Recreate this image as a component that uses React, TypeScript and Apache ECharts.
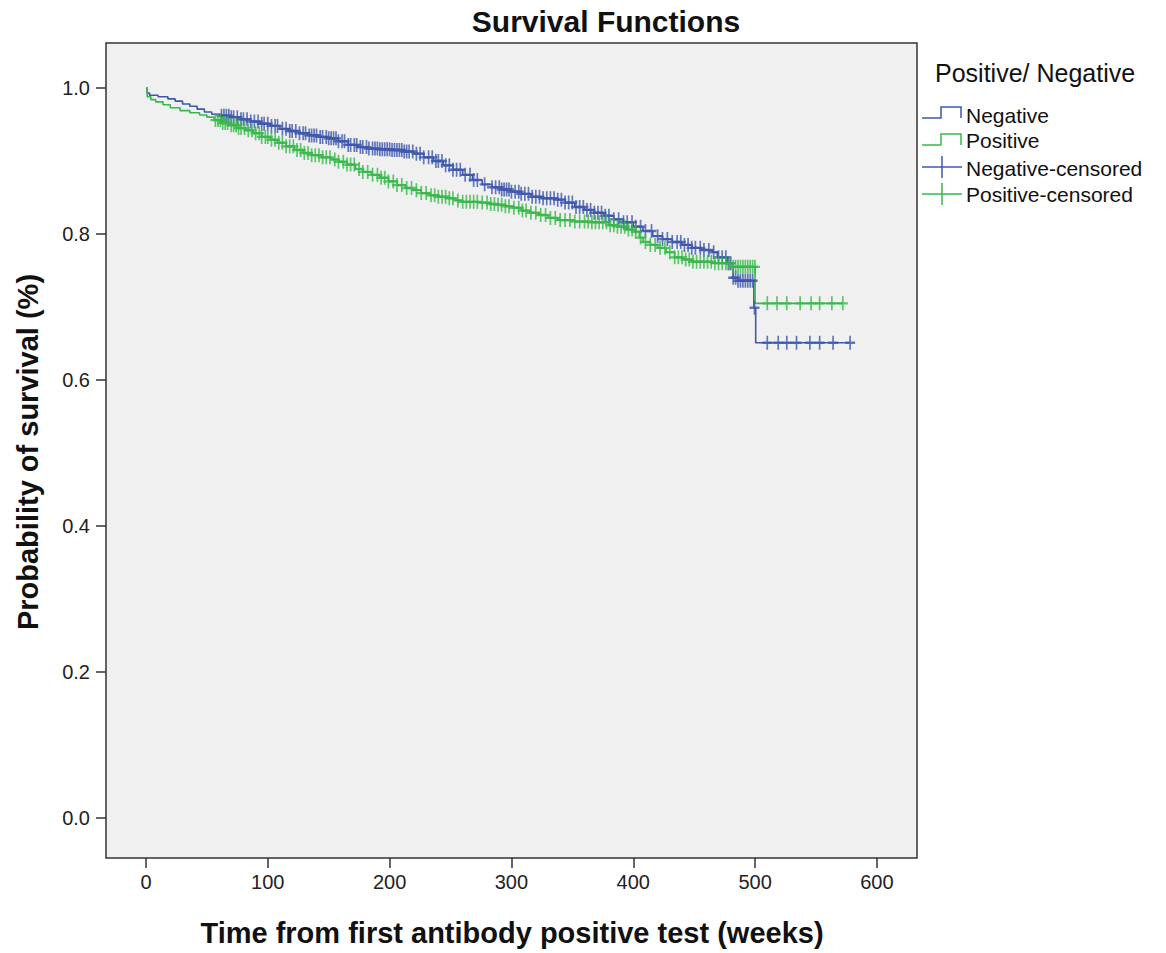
import React, { useEffect, useRef } from "react";
import * as echarts from "echarts";

// Tick values
const xTicks = [0, 100, 200, 300, 400, 500, 600];
const yTicks = [0, 0.2, 0.4, 0.6, 0.8, 1.0];

// Negative group: Kaplan-Meier step points (time in weeks, survival)
const negTimes = [0, 1, 3, 10, 18, 24, 30, 36, 42, 48, 54, 62, 70, 78, 86, 94, 102, 110, 118, 126, 134, 142, 150, 158, 166, 174, 182, 192, 202, 212, 220, 228, 236, 244, 252, 260, 268, 276, 284, 292, 300, 308, 316, 326, 336, 344, 352, 360, 368, 376, 384, 392, 400, 408, 416, 424, 432, 440, 448, 456, 465, 469, 477, 482, 486, 499, 500.5, 578];
const negSurv = [1.0, 0.993, 0.99, 0.988, 0.985, 0.982, 0.978, 0.975, 0.971, 0.967, 0.964, 0.962, 0.96, 0.957, 0.954, 0.951, 0.948, 0.944, 0.941, 0.938, 0.935, 0.933, 0.931, 0.927, 0.922, 0.919, 0.917, 0.916, 0.915, 0.913, 0.91, 0.905, 0.9, 0.894, 0.888, 0.881, 0.874, 0.868, 0.864, 0.861, 0.858, 0.855, 0.851, 0.849, 0.847, 0.843, 0.837, 0.833, 0.829, 0.825, 0.82, 0.816, 0.81, 0.804, 0.797, 0.793, 0.789, 0.785, 0.781, 0.778, 0.775, 0.768, 0.76, 0.74, 0.736, 0.699, 0.651, 0.651];
const negCensored = [62, 64, 66, 68, 70, 72, 75, 78, 80, 83, 86, 89, 92, 95, 97, 100, 103, 106, 108, 112, 115, 118, 120, 123, 126, 129, 131, 134, 136, 138, 140, 143, 145, 148, 150, 152, 154, 156, 158, 161, 163, 166, 168, 171, 173, 176, 178, 181, 183, 186, 188, 190, 192, 194, 196, 198, 200, 202, 204, 206, 208, 210, 212, 214, 216, 219, 222, 225, 228, 232, 235, 238, 240, 243, 246, 249, 252, 255, 258, 262, 266, 269, 272, 278, 284, 287, 290, 292, 294, 296, 298, 300, 303, 306, 308, 311, 314, 317, 320, 323, 326, 329, 332, 335, 338, 341, 344, 347, 350, 353, 356, 359, 362, 365, 368, 371, 374, 377, 380, 384, 388, 392, 395, 399, 402, 406, 410, 415, 420, 424, 428, 432, 436, 439, 442, 445, 448, 451, 455, 458, 462, 466, 470, 473, 476, 478, 480, 482, 484, 486, 488, 490, 492, 494, 496, 498, 499.5, 510, 519, 526, 534, 545, 553, 564, 578];

// Positive group
const posTimes = [0, 1, 4, 8, 14, 20, 28, 36, 44, 50, 56, 62, 68, 76, 82, 88, 95, 102, 108, 115, 122, 129, 136, 144, 152, 158, 165, 172, 178, 185, 192, 199, 206, 213, 219, 226, 233, 240, 247, 254, 260, 274, 282, 288, 295, 301, 308, 315, 322, 330, 338, 352, 366, 380, 387, 394, 401, 405, 408, 414, 420, 427, 434, 441, 448, 465, 482, 500, 572];
const posSurv = [1.0, 0.988, 0.984, 0.981, 0.977, 0.973, 0.969, 0.966, 0.963, 0.96, 0.956, 0.952, 0.949, 0.945, 0.942, 0.938, 0.933, 0.929, 0.925, 0.92, 0.915, 0.911, 0.908, 0.905, 0.902, 0.899, 0.895, 0.889, 0.885, 0.881, 0.877, 0.872, 0.867, 0.863, 0.86, 0.856, 0.853, 0.851, 0.849, 0.846, 0.844, 0.843, 0.841, 0.84, 0.838, 0.836, 0.832, 0.829, 0.826, 0.822, 0.819, 0.817, 0.816, 0.812, 0.81, 0.806, 0.803, 0.795, 0.789, 0.785, 0.781, 0.775, 0.768, 0.765, 0.762, 0.76, 0.755, 0.705, 0.705];
const posCensored = [57, 59, 61, 63, 65, 67, 70, 72, 74, 76, 78, 81, 84, 87, 90, 93, 95, 98, 100, 103, 106, 109, 112, 115, 118, 121, 124, 127, 130, 133, 136, 139, 142, 145, 148, 151, 155, 158, 162, 165, 168, 171, 175, 178, 182, 186, 190, 193, 196, 199, 203, 206, 210, 214, 218, 222, 226, 230, 234, 237, 240, 243, 246, 249, 252, 256, 260, 263, 266, 269, 272, 276, 280, 283, 286, 289, 292, 295, 298, 302, 306, 309, 312, 316, 320, 324, 328, 332, 336, 340, 344, 348, 352, 356, 360, 363, 366, 369, 372, 375, 378, 381, 384, 387, 390, 393, 396, 399, 402, 406, 410, 414, 418, 422, 426, 430, 434, 437, 440, 443, 446, 449, 452, 455, 458, 461, 464, 467, 470, 473, 476, 479, 482, 484, 486, 488, 490, 492, 494, 496, 498, 499.9, 510, 518, 526, 537, 546, 553, 563, 572];

const BLUE = "#3E58AC";
const GREEN = "#37B94A";
const FONT = "'Liberation Sans', Arial, sans-serif";
const CROSS = "path://M5,0L5,14M0,7L10,7";

function survAt(times: number[], surv: number[], t: number): number {
  let v = surv[0];
  for (let i = 0; i < times.length; i++) {
    if (times[i] <= t) v = surv[i];
    else break;
  }
  return v;
}

export default function App() {
  const ref = useRef<HTMLDivElement>(null);
  useEffect(() => {
    if (!ref.current) return;
    const chart = echarts.init(ref.current, null, { renderer: "svg" });
    const stepLine = (name: string, times: number[], surv: number[], color: string) => ({
      name,
      type: "line",
      step: "end",
      data: times.map((t, i) => [t, surv[i]]),
      showSymbol: false,
      symbol: "none",
      lineStyle: { color, width: 1.6 },
      itemStyle: { color },
      z: 2,
    });
    const censor = (name: string, cens: number[], times: number[], surv: number[], color: string) => ({
      name,
      type: "scatter",
      data: cens.map((t) => [t, survAt(times, surv, t)]),
      symbol: CROSS,
      symbolSize: [10, 14],
      itemStyle: { color: "rgba(0,0,0,0)", borderColor: color, borderWidth: 2 },
      z: 3,
    });
    const legendText = (text: string, y: number) => ({
      type: "text",
      x: 966,
      y,
      style: { text, fontSize: 21, fontFamily: FONT, fill: "#111", align: "left", verticalAlign: "middle" },
    });
    const stepIcon = (yLow: number, yHigh: number, color: string) => ({
      type: "polyline",
      shape: { points: [[922, yLow], [941, yLow], [941, yHigh], [961, yHigh], [961, yLow]] },
      style: { stroke: color, lineWidth: 1.5, fill: "none" },
    });
    const crossIcon = (y: number, color: string) => ({
      type: "group",
      children: [
        { type: "line", shape: { x1: 922, y1: y, x2: 962, y2: y }, style: { stroke: color, lineWidth: 1.5 } },
        { type: "line", shape: { x1: 942, y1: y - 11, x2: 942, y2: y + 11 }, style: { stroke: color, lineWidth: 1.5 } },
      ],
    });
    const option = {
      animation: false,
      grid: {
        left: 106,
        top: 43,
        right: 249,
        bottom: 95,
        show: true,
        backgroundColor: "#f0f0f0",
        borderColor: "#333",
        borderWidth: 1.5,
      },
      xAxis: {
        type: "value",
        min: -32.8,
        max: 632.9,
        axisLine: { show: false, onZero: false },
        splitLine: { show: false },
        axisTick: { show: true, customValues: xTicks, length: 10, lineStyle: { color: "#333", width: 1.5 } },
        axisLabel: { customValues: xTicks, margin: 14, fontSize: 20, color: "#222", fontFamily: FONT },
      },
      yAxis: {
        type: "value",
        min: -0.0548,
        max: 1.0616,
        axisLine: { show: false, onZero: false },
        splitLine: { show: false },
        axisTick: { show: true, customValues: yTicks, length: 10, lineStyle: { color: "#333", width: 1.5 } },
        axisLabel: {
          customValues: yTicks,
          margin: 16,
          fontSize: 20,
          color: "#222",
          fontFamily: FONT,
          formatter: (v: number) => v.toFixed(1),
        },
      },
      series: [
        stepLine("Negative", negTimes, negSurv, BLUE),
        stepLine("Positive", posTimes, posSurv, GREEN),
        censor("Negative-censored", negCensored, negTimes, negSurv, BLUE),
        censor("Positive-censored", posCensored, posTimes, posSurv, GREEN),
      ],
      graphic: [
        {
          type: "text",
          x: 606,
          y: 21,
          style: { text: "Survival Functions", fontSize: 30, fontWeight: "bold", fontFamily: FONT, fill: "#111", align: "center", verticalAlign: "middle" },
        },
        {
          type: "text",
          x: 512,
          y: 933,
          style: { text: "Time from first antibody positive test (weeks)", fontSize: 29, fontWeight: "bold", fontFamily: FONT, fill: "#111", align: "center", verticalAlign: "middle" },
        },
        {
          type: "text",
          x: 28,
          y: 452,
          rotation: Math.PI / 2,
          style: { text: "Probability of survival (%)", fontSize: 29, fontWeight: "bold", fontFamily: FONT, fill: "#111", align: "center", verticalAlign: "middle" },
        },
        {
          type: "text",
          x: 935,
          y: 73,
          style: { text: "Positive/ Negative", fontSize: 25, fontFamily: FONT, fill: "#111", align: "left", verticalAlign: "middle" },
        },
        stepIcon(118, 107, BLUE),
        stepIcon(145, 134, GREEN),
        crossIcon(167, BLUE),
        crossIcon(194, GREEN),
        legendText("Negative", 115),
        legendText("Positive", 140),
        legendText("Negative-censored", 168),
        legendText("Positive-censored", 194),
      ],
    };
    chart.setOption(option as any);
    return () => chart.dispose();
  }, []);
  return <div ref={ref} style={{ position: "fixed", left: 0, top: 0, width: 1166, height: 953, background: "#fff" }} />;
}
